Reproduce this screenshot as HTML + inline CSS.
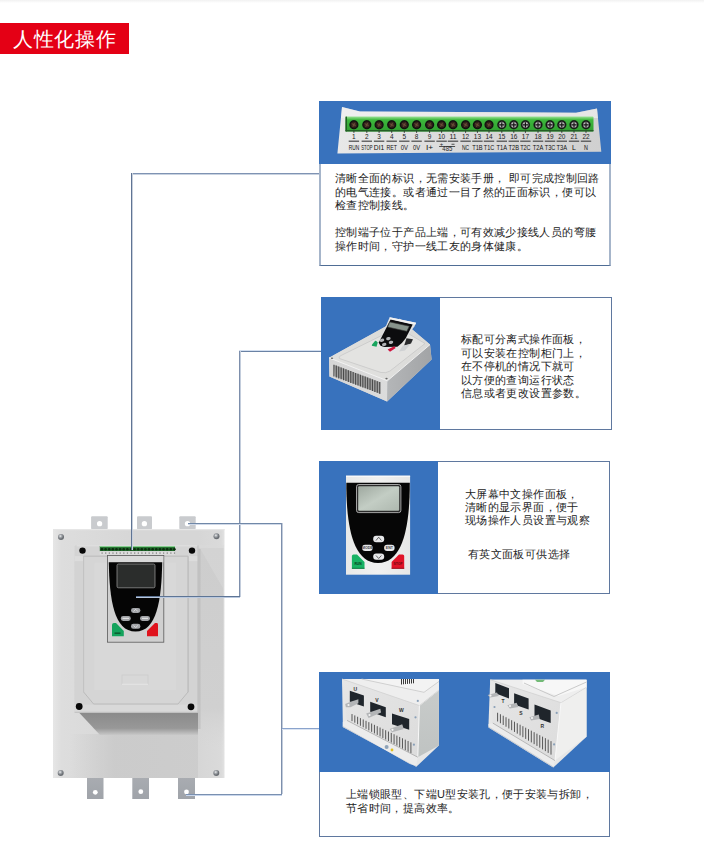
<!DOCTYPE html>
<html><head><meta charset="utf-8">
<style>
html,body{margin:0;padding:0;}
body{width:704px;height:852px;position:relative;overflow:hidden;background:#fff;font-family:"Liberation Sans",sans-serif;}
.a{position:absolute;}
.topfade{left:0;top:0;width:704px;height:3px;background:linear-gradient(#f1f1f1,#fff);}
.title{left:0;top:23px;width:129px;height:31px;background:#e40015;color:#fff;font-size:20px;line-height:33px;text-indent:13px;letter-spacing:0.7px;}
.box{border:1px solid #5f789f;background:#fff;box-sizing:border-box;}
.blue{background:#3872bd;}
.hl{height:1px;background:#6a86b3;}
.vl{width:1px;background:#6a86b3;}
.txt{font-size:11px;letter-spacing:0.36px;line-height:13.3px;color:#222;white-space:nowrap;}
</style></head><body>
<div class="a topfade"></div>
<div class="a title">人性化操作</div>


<!-- device -->
<svg class="a" style="left:0;top:0" width="704" height="852" viewBox="0 0 704 852">
<defs><linearGradient id="bp" x1="0" x2="1" y1="0" y2="0"><stop offset="0" stop-color="#e6e6e6"/><stop offset="0.05" stop-color="#dddddd"/><stop offset="0.5" stop-color="#d6d6d6"/><stop offset="0.85" stop-color="#d6d6d6"/><stop offset="0.98" stop-color="#dadada"/><stop offset="1" stop-color="#e2e2e2"/></linearGradient><linearGradient id="rs" x1="0" x2="0" y1="0" y2="1"><stop offset="0" stop-color="#cdcdcd"/><stop offset="0.8" stop-color="#d0d0d0"/><stop offset="1" stop-color="#d6d6d6" stop-opacity="0"/></linearGradient><linearGradient id="mb" x1="0" x2="1" y1="0" y2="0"><stop offset="0" stop-color="#c9c9c9" stop-opacity="0"/><stop offset="0.35" stop-color="#c9c9c9" stop-opacity="0.85"/><stop offset="1" stop-color="#cbcbcb" stop-opacity="0.85"/></linearGradient><linearGradient id="tabb" x1="0" x2="0" y1="0" y2="1"><stop offset="0" stop-color="#a9acb1"/><stop offset="1" stop-color="#9fa3a9"/></linearGradient><linearGradient id="shd" x1="0" x2="0" y1="0" y2="1"><stop offset="0" stop-color="#8a8a8a"/><stop offset="0.7" stop-color="#989898"/><stop offset="1" stop-color="#c8c8c8"/></linearGradient><linearGradient id="low" x1="0" x2="0" y1="0" y2="1"><stop offset="0" stop-color="#c6c6c6"/><stop offset="1" stop-color="#d2d2d2"/></linearGradient><radialGradient id="scr" cx="0.4" cy="0.35"><stop offset="0" stop-color="#f0f0f0"/><stop offset="0.45" stop-color="#a4a8ad"/><stop offset="1" stop-color="#6a6e73"/></radialGradient></defs>
<rect x="91.1" y="516.2" width="16.6" height="13" rx="1" fill="#c9cbce"/>
<circle cx="99.6" cy="523.7" r="2.65" fill="#fff"/>
<rect x="137" y="516.2" width="15" height="13" rx="1" fill="#c9cbce"/>
<circle cx="144.4" cy="523.7" r="2.65" fill="#fff"/>
<rect x="179.3" y="516.2" width="16.4" height="13" rx="1" fill="#c9cbce"/>
<circle cx="187.5" cy="523.7" r="2.65" fill="#fff"/>
<rect x="87" y="777.5" width="16.5" height="21.5" fill="url(#tabb)"/>
<circle cx="95.3" cy="792.3" r="2.4" fill="#fff"/>
<rect x="132.3" y="777.5" width="16.7" height="21.5" fill="url(#tabb)"/>
<circle cx="140.8" cy="791.7" r="2.4" fill="#fff"/>
<rect x="178" y="777.5" width="17" height="21.5" fill="url(#tabb)"/>
<circle cx="186.5" cy="792" r="2.4" fill="#fff"/>
<rect x="53" y="529" width="171.5" height="249" fill="url(#bp)"/>
<rect x="53" y="529" width="171.5" height="1.2" fill="#e6e6e6"/>
<rect x="198" y="548" width="25.5" height="200" fill="url(#rs)"/>
<rect x="70" y="734" width="128" height="44" fill="url(#mb)"/>
<polygon points="198,545 224,545 224,590" fill="#dadada" opacity="0.5"/>
<rect x="198" y="549" width="2.5" height="180" fill="#b9b9b9" opacity="0.6"/>
<path d="M79 712.5 L198 712.5 L198 735 L100 735 Z" fill="url(#shd)"/>
<circle cx="61" cy="537" r="3" fill="url(#scr)"/>
<circle cx="216.5" cy="536.3" r="3" fill="url(#scr)"/>
<circle cx="60.7" cy="773" r="3" fill="url(#scr)"/>
<circle cx="216.3" cy="773" r="3" fill="url(#scr)"/>
<rect x="74.5" y="545.3" width="123.7" height="167.2" rx="1.5" fill="#d3d3d3"/>
<rect x="76.6" y="545.3" width="121.6" height="9.5" fill="#d4d4d4"/>
<rect x="76.6" y="545.3" width="121.6" height="1" fill="#e2e2e2"/>
<rect x="74.5" y="704.5" width="123.7" height="8" fill="#d9d9d9"/>
<rect x="74.5" y="711.8" width="123.7" height="0.9" fill="#bcbcbc"/>
<path d="M74.5 558.5 Q74.5 556.2 76.8 556.2 L198 556.2 L198 704.5 L74.5 704.5 Z" fill="#d3d3d3"/>
<rect x="74.5" y="556.2" width="123.5" height="5" fill="#dcdcdc"/>
<path d="M83.6 556.2 L188 556.2 L188 692 L178 704 L93.6 704 L83.6 692 Z" fill="#d5d5d5" stroke="#b8b8b8" stroke-width="0.9"/>
<path d="M94.2 565 Q94.2 562.5 97 562.5 L176 562.5 L176 690 L95 690 L94.2 690 Z" fill="#d8d8d8"/>
<rect x="83.4" y="556.2" width="0.6" height="136" fill="#c6c6c6"/>
<rect x="187.8" y="556.2" width="0.8" height="136" fill="#bdbdbd"/>
<rect x="197.5" y="545.3" width="0.9" height="167" fill="#bdbdbd"/>
<circle cx="82.5" cy="550.6" r="3.2" fill="#080808"/>
<circle cx="192" cy="550.6" r="3.2" fill="#080808"/>
<circle cx="79.2" cy="706.5" r="3.4" fill="#080808"/>
<circle cx="191" cy="706.8" r="3.4" fill="#080808"/>
<rect x="122" y="675" width="26" height="9.5" fill="none" stroke="#c8c8c8" stroke-width="0.6"/>
<rect x="122" y="683.8" width="26" height="0.9" fill="#ececec"/>
<rect x="99.8" y="546" width="75.2" height="5.2" fill="#1f6a2a"/>
<rect x="99.8" y="546" width="75.2" height="1.1" fill="#86cf8f"/>
<circle cx="102.00" cy="549.3" r="1.3" fill="#0b2a0e"/><circle cx="105.62" cy="549.3" r="1.3" fill="#0b2a0e"/><circle cx="109.24" cy="549.3" r="1.3" fill="#0b2a0e"/><circle cx="112.86" cy="549.3" r="1.3" fill="#0b2a0e"/><circle cx="116.48" cy="549.3" r="1.3" fill="#0b2a0e"/><circle cx="120.10" cy="549.3" r="1.3" fill="#0b2a0e"/><circle cx="123.72" cy="549.3" r="1.3" fill="#0b2a0e"/><circle cx="127.34" cy="549.3" r="1.3" fill="#0b2a0e"/><circle cx="130.96" cy="549.3" r="1.3" fill="#0b2a0e"/><circle cx="134.58" cy="549.3" r="1.3" fill="#0b2a0e"/><circle cx="138.20" cy="549.3" r="1.3" fill="#0b2a0e"/><circle cx="141.82" cy="549.3" r="1.3" fill="#0b2a0e"/><circle cx="145.44" cy="549.3" r="1.3" fill="#0b2a0e"/><circle cx="149.06" cy="549.3" r="1.3" fill="#0b2a0e"/><circle cx="152.68" cy="549.3" r="1.3" fill="#0b2a0e"/><circle cx="156.30" cy="549.3" r="1.3" fill="#0b2a0e"/><circle cx="159.92" cy="549.3" r="1.3" fill="#0b2a0e"/><circle cx="163.54" cy="549.3" r="1.3" fill="#0b2a0e"/><circle cx="167.16" cy="549.3" r="1.3" fill="#0b2a0e"/><circle cx="170.78" cy="549.3" r="1.3" fill="#0b2a0e"/><circle cx="174.40" cy="549.3" r="1.3" fill="#0b2a0e"/>
<rect x="99.8" y="551.2" width="75.2" height="3.6" fill="#dedede"/>
<rect x="101.50" y="552.2" width="1.2" height="1.8" fill="#9a9a9a"/><rect x="105.12" y="552.2" width="1.2" height="1.8" fill="#9a9a9a"/><rect x="108.74" y="552.2" width="1.2" height="1.8" fill="#9a9a9a"/><rect x="112.36" y="552.2" width="1.2" height="1.8" fill="#9a9a9a"/><rect x="115.98" y="552.2" width="1.2" height="1.8" fill="#9a9a9a"/><rect x="119.60" y="552.2" width="1.2" height="1.8" fill="#9a9a9a"/><rect x="123.22" y="552.2" width="1.2" height="1.8" fill="#9a9a9a"/><rect x="126.84" y="552.2" width="1.2" height="1.8" fill="#9a9a9a"/><rect x="130.46" y="552.2" width="1.2" height="1.8" fill="#9a9a9a"/><rect x="134.08" y="552.2" width="1.2" height="1.8" fill="#9a9a9a"/><rect x="137.70" y="552.2" width="1.2" height="1.8" fill="#9a9a9a"/><rect x="141.32" y="552.2" width="1.2" height="1.8" fill="#9a9a9a"/><rect x="144.94" y="552.2" width="1.2" height="1.8" fill="#9a9a9a"/><rect x="148.56" y="552.2" width="1.2" height="1.8" fill="#9a9a9a"/><rect x="152.18" y="552.2" width="1.2" height="1.8" fill="#9a9a9a"/><rect x="155.80" y="552.2" width="1.2" height="1.8" fill="#9a9a9a"/><rect x="159.42" y="552.2" width="1.2" height="1.8" fill="#9a9a9a"/><rect x="163.04" y="552.2" width="1.2" height="1.8" fill="#9a9a9a"/><rect x="166.66" y="552.2" width="1.2" height="1.8" fill="#9a9a9a"/><rect x="170.28" y="552.2" width="1.2" height="1.8" fill="#9a9a9a"/><rect x="173.90" y="552.2" width="1.2" height="1.8" fill="#9a9a9a"/>
<rect x="107.5" y="555.6" width="56.3" height="86.6" fill="#d0d0d0" stroke="#5a5a5a" stroke-width="0.8"/>
<rect x="108" y="556" width="55.3" height="6.3" fill="#dadada"/>
<path d="M108.8 562.3 L162.2 562.3 C161.5 600 157 631.6 135.5 631.6 C114 631.6 109.5 600 108.8 562.3 Z" fill="#050505"/>
<rect x="117" y="564" width="38" height="23.8" rx="1.5" fill="#2b2d2c" stroke="#a0a0a0" stroke-width="0.7"/>
<rect x="131" y="608" width="9.4" height="5" rx="2.4" fill="#a3a5a9"/>
<rect x="120.8" y="615.9" width="10" height="5" rx="2.4" fill="#a3a5a9"/>
<rect x="140" y="615.9" width="10" height="5" rx="2.4" fill="#a3a5a9"/>
<rect x="131" y="623.8" width="9.4" height="5" rx="2.4" fill="#a3a5a9"/>
<path d="M112 636.3 L112 625 Q112 623 114 623 L116 623 L123.8 631 L123.8 636.3 Z" fill="#14a35c"/>
<path d="M133.6 611.5 L135.7 609.3 L137.8 611.5" stroke="#f0f0f0" stroke-width="0.7" fill="none"/>
<path d="M133.6 625.5 L135.7 627.6 L137.8 625.5" stroke="#f0f0f0" stroke-width="0.7" fill="none"/>
<rect x="122.5" y="617.8" width="6.5" height="1.2" fill="#eeeeee" opacity="0.8"/>
<rect x="142" y="617.8" width="6" height="1.2" fill="#eeeeee" opacity="0.8"/>
<rect x="114.5" y="632.5" width="6" height="1.3" fill="#0a3a1c" opacity="0.8"/>
<rect x="150" y="632.5" width="6" height="1.3" fill="#6a0a10" opacity="0.7"/>
<path d="M147 636.3 L147 631 L155 623 L157 623 Q158 623 158 625 L158 636.3 Z" fill="#e0131d"/>
</svg>

<!-- connector lines -->
<div class="a" style="left:131px;top:173px;width:190px;height:1px;background:#7f93b3;box-shadow:0 1px 0 #c8d2e0;"></div>
<div class="a" style="left:131px;top:173px;width:1px;height:377px;background:#5f7494;box-shadow:1px 0 0 #c8d0dc;"></div>

<div class="a" style="left:239px;top:351px;width:82px;height:1px;background:#6a82a5;box-shadow:0 -1px 0 #d3dff0;"></div>
<div class="a" style="left:239px;top:351px;width:1px;height:246px;background:#7d8fac;box-shadow:1px 0 0 #c3cddc;"></div>
<div class="a" style="left:136px;top:596px;width:104px;height:1px;background:#5e7595;box-shadow:0 1px 0 #b9c8de;"></div>

<div class="a" style="left:188px;top:523px;width:94px;height:1px;background:#7088a8;box-shadow:0 1px 0 #d0d9e8;"></div>
<div class="a" style="left:281px;top:523px;width:1px;height:271px;background:#7d8fac;box-shadow:1px 0 0 #c3cddc;"></div>
<div class="a" style="left:186px;top:794px;width:96px;height:1px;background:#7a90b0;box-shadow:0 1px 0 #c8d6ec;"></div>
<div class="a" style="left:282px;top:728px;width:38px;height:1px;background:#8aa3cc;box-shadow:0 1px 0 #dbe4f2;"></div>

<!-- box 1 -->
<div class="a box" style="left:319px;top:101px;width:292px;height:165px;border-left:2px solid #a6b5ca;border-right:2px solid #a6b5ca;border-bottom:1px solid #4f6d95;"></div>
<svg class="a" style="left:319px;top:101px" width="292" height="63" viewBox="319 101 292 63">
<defs><linearGradient id="pl" x1="0" x2="1"><stop offset="0" stop-color="#e8e8e8"/><stop offset="0.5" stop-color="#d9d9d9"/><stop offset="1" stop-color="#d0d0d0"/></linearGradient><linearGradient id="gr" x1="0" x2="0" y1="0" y2="1"><stop offset="0" stop-color="#9be296"/><stop offset="0.22" stop-color="#3db83c"/><stop offset="1" stop-color="#2f9f30"/></linearGradient><radialGradient id="sc"><stop offset="0" stop-color="#5a4030"/><stop offset="0.6" stop-color="#2a1d16"/><stop offset="0.85" stop-color="#0e0e0e"/><stop offset="1" stop-color="#1a3a1a"/></radialGradient><radialGradient id="sc2"><stop offset="0" stop-color="#e8e8e8"/><stop offset="0.5" stop-color="#b0b0b0"/><stop offset="0.75" stop-color="#151515"/><stop offset="1" stop-color="#1a3a1a"/></radialGradient></defs>
<rect x="319" y="101" width="292" height="63" fill="#3872bd"/>
<path d="M342 107 L360 111.4 L576 112.8 L597 108.5 L601.3 151.7 L337.4 153.4 Z" fill="url(#pl)"/>
<path d="M342 107 L360 111.4 L576 112.8 L597 108.5 L598 118 L341 118 Z" fill="#f4f4f4" opacity="0.6"/>
<rect x="345.5" y="116.6" width="248" height="14.8" rx="1" fill="url(#gr)"/>
<rect x="345.5" y="116.6" width="1.5" height="14.8" fill="#1f5e22"/>
<rect x="345.5" y="130" width="248" height="1.4" fill="#245f26"/>
<circle cx="353.9" cy="124.8" r="4.7" fill="url(#sc)"/>
<path d="M351.7 123.5 L356.1 126.1 M352.7 127 L355.1 122.6" stroke="#7a5a40" stroke-width="0.7" opacity="0.8"/>
<rect x="353.4" y="131" width="1" height="1.8" fill="#333"/>
<text x="353.9" y="139.4" font-size="7.8" text-anchor="middle" fill="#222" font-family="Liberation Sans" textLength="3.6" lengthAdjust="spacingAndGlyphs">1</text>
<rect x="348.7" y="140.6" width="10.4" height="1.2" fill="#4a4a4a"/>
<text x="353.9" y="149.6" font-size="8" text-anchor="middle" fill="#111" font-family="Liberation Sans" textLength="10.5" lengthAdjust="spacingAndGlyphs">RUN</text>
<circle cx="366.8" cy="124.8" r="4.7" fill="url(#sc)"/>
<path d="M364.6 123.5 L369.0 126.1 M365.6 127 L368.0 122.6" stroke="#7a5a40" stroke-width="0.7" opacity="0.8"/>
<rect x="366.3" y="131" width="1" height="1.8" fill="#333"/>
<text x="366.8" y="139.4" font-size="7.8" text-anchor="middle" fill="#222" font-family="Liberation Sans" textLength="3.6" lengthAdjust="spacingAndGlyphs">2</text>
<rect x="361.6" y="140.6" width="10.4" height="1.2" fill="#4a4a4a"/>
<text x="366.8" y="149.6" font-size="8" text-anchor="middle" fill="#111" font-family="Liberation Sans" textLength="11.2" lengthAdjust="spacingAndGlyphs">STOP</text>
<circle cx="379.1" cy="124.8" r="4.7" fill="url(#sc)"/>
<path d="M376.9 123.5 L381.3 126.1 M377.9 127 L380.3 122.6" stroke="#7a5a40" stroke-width="0.7" opacity="0.8"/>
<rect x="378.6" y="131" width="1" height="1.8" fill="#333"/>
<text x="379.1" y="139.4" font-size="7.8" text-anchor="middle" fill="#222" font-family="Liberation Sans" textLength="3.6" lengthAdjust="spacingAndGlyphs">3</text>
<rect x="373.9" y="140.6" width="10.4" height="1.2" fill="#4a4a4a"/>
<text x="379.1" y="149.6" font-size="8" text-anchor="middle" fill="#111" font-family="Liberation Sans" textLength="10.5" lengthAdjust="spacingAndGlyphs">DI1</text>
<circle cx="391.7" cy="124.8" r="4.7" fill="url(#sc)"/>
<path d="M389.5 123.5 L393.9 126.1 M390.5 127 L392.9 122.6" stroke="#7a5a40" stroke-width="0.7" opacity="0.8"/>
<rect x="391.2" y="131" width="1" height="1.8" fill="#333"/>
<text x="391.7" y="139.4" font-size="7.8" text-anchor="middle" fill="#222" font-family="Liberation Sans" textLength="3.6" lengthAdjust="spacingAndGlyphs">4</text>
<rect x="386.5" y="140.6" width="10.4" height="1.2" fill="#4a4a4a"/>
<text x="391.7" y="149.6" font-size="8" text-anchor="middle" fill="#111" font-family="Liberation Sans" textLength="10.5" lengthAdjust="spacingAndGlyphs">RET</text>
<circle cx="404.3" cy="124.8" r="4.7" fill="url(#sc)"/>
<path d="M402.1 123.5 L406.5 126.1 M403.1 127 L405.5 122.6" stroke="#7a5a40" stroke-width="0.7" opacity="0.8"/>
<rect x="403.8" y="131" width="1" height="1.8" fill="#333"/>
<text x="404.3" y="139.4" font-size="7.8" text-anchor="middle" fill="#222" font-family="Liberation Sans" textLength="3.6" lengthAdjust="spacingAndGlyphs">5</text>
<rect x="399.1" y="140.6" width="10.4" height="1.2" fill="#4a4a4a"/>
<text x="404.3" y="149.6" font-size="8" text-anchor="middle" fill="#111" font-family="Liberation Sans" textLength="7.2" lengthAdjust="spacingAndGlyphs">0V</text>
<circle cx="416.6" cy="124.8" r="4.7" fill="url(#sc)"/>
<path d="M414.4 123.5 L418.8 126.1 M415.4 127 L417.8 122.6" stroke="#7a5a40" stroke-width="0.7" opacity="0.8"/>
<rect x="416.1" y="131" width="1" height="1.8" fill="#333"/>
<text x="416.6" y="139.4" font-size="7.8" text-anchor="middle" fill="#222" font-family="Liberation Sans" textLength="3.6" lengthAdjust="spacingAndGlyphs">8</text>
<rect x="411.4" y="140.6" width="10.4" height="1.2" fill="#4a4a4a"/>
<text x="416.6" y="149.6" font-size="8" text-anchor="middle" fill="#111" font-family="Liberation Sans" textLength="7.2" lengthAdjust="spacingAndGlyphs">0V</text>
<circle cx="429.6" cy="124.8" r="4.7" fill="url(#sc)"/>
<path d="M427.4 123.5 L431.8 126.1 M428.4 127 L430.8 122.6" stroke="#7a5a40" stroke-width="0.7" opacity="0.8"/>
<rect x="429.1" y="131" width="1" height="1.8" fill="#333"/>
<text x="429.6" y="139.4" font-size="7.8" text-anchor="middle" fill="#222" font-family="Liberation Sans" textLength="3.6" lengthAdjust="spacingAndGlyphs">9</text>
<rect x="424.4" y="140.6" width="10.4" height="1.2" fill="#4a4a4a"/>
<text x="429.6" y="149.6" font-size="8" text-anchor="middle" fill="#111" font-family="Liberation Sans" textLength="7.2" lengthAdjust="spacingAndGlyphs">I+</text>
<circle cx="441.6" cy="124.8" r="4.7" fill="url(#sc)"/>
<path d="M439.4 123.5 L443.8 126.1 M440.4 127 L442.8 122.6" stroke="#7a5a40" stroke-width="0.7" opacity="0.8"/>
<rect x="441.1" y="131" width="1" height="1.8" fill="#333"/>
<text x="441.6" y="139.4" font-size="7.8" text-anchor="middle" fill="#222" font-family="Liberation Sans" textLength="7.2" lengthAdjust="spacingAndGlyphs">10</text>
<rect x="436.4" y="140.6" width="10.4" height="1.2" fill="#4a4a4a"/>
<circle cx="453.0" cy="124.8" r="4.7" fill="url(#sc)"/>
<path d="M450.8 123.5 L455.2 126.1 M451.8 127 L454.2 122.6" stroke="#7a5a40" stroke-width="0.7" opacity="0.8"/>
<rect x="452.5" y="131" width="1" height="1.8" fill="#333"/>
<text x="453.0" y="139.4" font-size="7.8" text-anchor="middle" fill="#222" font-family="Liberation Sans" textLength="7.2" lengthAdjust="spacingAndGlyphs">11</text>
<rect x="447.8" y="140.6" width="10.4" height="1.2" fill="#4a4a4a"/>
<circle cx="465.6" cy="124.8" r="4.7" fill="url(#sc)"/>
<path d="M463.4 123.5 L467.8 126.1 M464.4 127 L466.8 122.6" stroke="#7a5a40" stroke-width="0.7" opacity="0.8"/>
<rect x="465.1" y="131" width="1" height="1.8" fill="#333"/>
<text x="465.6" y="139.4" font-size="7.8" text-anchor="middle" fill="#222" font-family="Liberation Sans" textLength="7.2" lengthAdjust="spacingAndGlyphs">12</text>
<rect x="460.4" y="140.6" width="10.4" height="1.2" fill="#4a4a4a"/>
<text x="465.6" y="149.6" font-size="8" text-anchor="middle" fill="#111" font-family="Liberation Sans" textLength="7.2" lengthAdjust="spacingAndGlyphs">NC</text>
<circle cx="477.4" cy="124.8" r="4.7" fill="url(#sc)"/>
<path d="M475.2 123.5 L479.6 126.1 M476.2 127 L478.6 122.6" stroke="#7a5a40" stroke-width="0.7" opacity="0.8"/>
<rect x="476.9" y="131" width="1" height="1.8" fill="#333"/>
<text x="477.4" y="139.4" font-size="7.8" text-anchor="middle" fill="#222" font-family="Liberation Sans" textLength="7.2" lengthAdjust="spacingAndGlyphs">13</text>
<rect x="472.2" y="140.6" width="10.4" height="1.2" fill="#4a4a4a"/>
<text x="477.4" y="149.6" font-size="8" text-anchor="middle" fill="#111" font-family="Liberation Sans" textLength="10.5" lengthAdjust="spacingAndGlyphs">T1B</text>
<circle cx="489.0" cy="124.8" r="4.7" fill="url(#sc)"/>
<path d="M486.8 123.5 L491.2 126.1 M487.8 127 L490.2 122.6" stroke="#7a5a40" stroke-width="0.7" opacity="0.8"/>
<rect x="488.5" y="131" width="1" height="1.8" fill="#333"/>
<text x="489.0" y="139.4" font-size="7.8" text-anchor="middle" fill="#222" font-family="Liberation Sans" textLength="7.2" lengthAdjust="spacingAndGlyphs">14</text>
<rect x="483.8" y="140.6" width="10.4" height="1.2" fill="#4a4a4a"/>
<text x="489.0" y="149.6" font-size="8" text-anchor="middle" fill="#111" font-family="Liberation Sans" textLength="10.5" lengthAdjust="spacingAndGlyphs">T1C</text>
<circle cx="501.8" cy="124.8" r="4.7" fill="url(#sc2)"/>
<path d="M499.2 124.8 H504.4 M501.8 122.2 V127.4" stroke="#111" stroke-width="1.2"/>
<rect x="501.3" y="131" width="1" height="1.8" fill="#333"/>
<text x="501.8" y="139.4" font-size="7.8" text-anchor="middle" fill="#222" font-family="Liberation Sans" textLength="7.2" lengthAdjust="spacingAndGlyphs">15</text>
<rect x="496.6" y="140.6" width="10.4" height="1.2" fill="#4a4a4a"/>
<text x="501.8" y="149.6" font-size="8" text-anchor="middle" fill="#111" font-family="Liberation Sans" textLength="10.5" lengthAdjust="spacingAndGlyphs">T1A</text>
<circle cx="513.8" cy="124.8" r="4.7" fill="url(#sc2)"/>
<path d="M511.2 124.8 H516.4 M513.8 122.2 V127.4" stroke="#111" stroke-width="1.2"/>
<rect x="513.3" y="131" width="1" height="1.8" fill="#333"/>
<text x="513.8" y="139.4" font-size="7.8" text-anchor="middle" fill="#222" font-family="Liberation Sans" textLength="7.2" lengthAdjust="spacingAndGlyphs">16</text>
<rect x="508.6" y="140.6" width="10.4" height="1.2" fill="#4a4a4a"/>
<text x="513.8" y="149.6" font-size="8" text-anchor="middle" fill="#111" font-family="Liberation Sans" textLength="10.5" lengthAdjust="spacingAndGlyphs">T2B</text>
<circle cx="525.4" cy="124.8" r="4.7" fill="url(#sc2)"/>
<path d="M522.8 124.8 H528.0 M525.4 122.2 V127.4" stroke="#111" stroke-width="1.2"/>
<rect x="524.9" y="131" width="1" height="1.8" fill="#333"/>
<text x="525.4" y="139.4" font-size="7.8" text-anchor="middle" fill="#222" font-family="Liberation Sans" textLength="7.2" lengthAdjust="spacingAndGlyphs">17</text>
<rect x="520.2" y="140.6" width="10.4" height="1.2" fill="#4a4a4a"/>
<text x="525.4" y="149.6" font-size="8" text-anchor="middle" fill="#111" font-family="Liberation Sans" textLength="10.5" lengthAdjust="spacingAndGlyphs">T2C</text>
<circle cx="538.0" cy="124.8" r="4.7" fill="url(#sc2)"/>
<path d="M535.4 124.8 H540.6 M538.0 122.2 V127.4" stroke="#111" stroke-width="1.2"/>
<rect x="537.5" y="131" width="1" height="1.8" fill="#333"/>
<text x="538.0" y="139.4" font-size="7.8" text-anchor="middle" fill="#222" font-family="Liberation Sans" textLength="7.2" lengthAdjust="spacingAndGlyphs">18</text>
<rect x="532.8" y="140.6" width="10.4" height="1.2" fill="#4a4a4a"/>
<text x="538.0" y="149.6" font-size="8" text-anchor="middle" fill="#111" font-family="Liberation Sans" textLength="10.5" lengthAdjust="spacingAndGlyphs">T2A</text>
<circle cx="550.0" cy="124.8" r="4.7" fill="url(#sc2)"/>
<path d="M547.4 124.8 H552.6 M550.0 122.2 V127.4" stroke="#111" stroke-width="1.2"/>
<rect x="549.5" y="131" width="1" height="1.8" fill="#333"/>
<text x="550.0" y="139.4" font-size="7.8" text-anchor="middle" fill="#222" font-family="Liberation Sans" textLength="7.2" lengthAdjust="spacingAndGlyphs">19</text>
<rect x="544.8" y="140.6" width="10.4" height="1.2" fill="#4a4a4a"/>
<text x="550.0" y="149.6" font-size="8" text-anchor="middle" fill="#111" font-family="Liberation Sans" textLength="10.5" lengthAdjust="spacingAndGlyphs">T3C</text>
<circle cx="561.8" cy="124.8" r="4.7" fill="url(#sc2)"/>
<path d="M559.2 124.8 H564.4 M561.8 122.2 V127.4" stroke="#111" stroke-width="1.2"/>
<rect x="561.3" y="131" width="1" height="1.8" fill="#333"/>
<text x="561.8" y="139.4" font-size="7.8" text-anchor="middle" fill="#222" font-family="Liberation Sans" textLength="7.2" lengthAdjust="spacingAndGlyphs">20</text>
<rect x="556.6" y="140.6" width="10.4" height="1.2" fill="#4a4a4a"/>
<text x="561.8" y="149.6" font-size="8" text-anchor="middle" fill="#111" font-family="Liberation Sans" textLength="10.5" lengthAdjust="spacingAndGlyphs">T3A</text>
<circle cx="574.0" cy="124.8" r="4.7" fill="url(#sc2)"/>
<path d="M571.4 124.8 H576.6 M574.0 122.2 V127.4" stroke="#111" stroke-width="1.2"/>
<rect x="573.5" y="131" width="1" height="1.8" fill="#333"/>
<text x="574.0" y="139.4" font-size="7.8" text-anchor="middle" fill="#222" font-family="Liberation Sans" textLength="7.2" lengthAdjust="spacingAndGlyphs">21</text>
<rect x="568.8" y="140.6" width="10.4" height="1.2" fill="#4a4a4a"/>
<text x="574.0" y="149.6" font-size="8" text-anchor="middle" fill="#111" font-family="Liberation Sans" textLength="3.9" lengthAdjust="spacingAndGlyphs">L</text>
<circle cx="586.0" cy="124.8" r="4.7" fill="url(#sc2)"/>
<path d="M583.4 124.8 H588.6 M586.0 122.2 V127.4" stroke="#111" stroke-width="1.2"/>
<rect x="585.5" y="131" width="1" height="1.8" fill="#333"/>
<text x="586.0" y="139.4" font-size="7.8" text-anchor="middle" fill="#222" font-family="Liberation Sans" textLength="7.2" lengthAdjust="spacingAndGlyphs">22</text>
<rect x="580.8" y="140.6" width="10.4" height="1.2" fill="#4a4a4a"/>
<text x="586.0" y="149.6" font-size="8" text-anchor="middle" fill="#111" font-family="Liberation Sans" textLength="3.9" lengthAdjust="spacingAndGlyphs">N</text>
<text x="447.3" y="151" font-size="6.5" text-anchor="middle" fill="#2a2a2a" font-family="Liberation Sans" textLength="10" lengthAdjust="spacingAndGlyphs">485</text>
<text x="441.6" y="146" font-size="6" text-anchor="middle" fill="#2a2a2a" font-family="Liberation Sans">+</text>
<rect x="439.1" y="146" width="16" height="0.8" fill="#2a2a2a"/>
<rect x="451.5" y="143.8" width="3" height="0.8" fill="#2a2a2a"/>
</svg>
<div class="a txt" style="left:335px;top:172px;line-height:13.5px;">清晰全面的标识，无需安装手册， 即可完成控制回路<br>的电气连接。或者通过一目了然的正面标识，便可以<br>检查控制接线。<br><br>控制端子位于产品上端，可有效减少接线人员的弯腰<br>操作时间，守护一线工友的身体健康。</div>

<!-- box 2 -->
<div class="a box" style="left:321px;top:297px;width:291px;height:133px;"></div>
<svg class="a" style="left:321px;top:297px" width="119" height="133" viewBox="321 297 119 133">
<defs><linearGradient id="tf" x1="0" y1="1" x2="1" y2="0"><stop offset="0" stop-color="#e2e2e0"/><stop offset="1" stop-color="#d8d8d6"/></linearGradient><linearGradient id="lf" x1="0" x2="1"><stop offset="0" stop-color="#d6d6d6"/><stop offset="1" stop-color="#dcdcdc"/></linearGradient><linearGradient id="rf" x1="0" x2="1"><stop offset="0" stop-color="#b4b6b8"/><stop offset="1" stop-color="#a2a4a6"/></linearGradient><linearGradient id="lcd2" x1="0" x2="1"><stop offset="0" stop-color="#8a968f"/><stop offset="1" stop-color="#6f7a74"/></linearGradient></defs>
<rect x="321" y="297" width="119" height="133" fill="#3872bd"/>
<path d="M329.0 357.8 L399.6 318.8 L430.0 344.6 L431.6 359.4 L387.1 401.5 L329.4 376.6 Z" fill="#d0d3d8" />
<path d="M329.0 357.8 L399.6 318.8 L430.0 344.6 L387.4 380.8 Z" fill="url(#tf)" />
<path d="M329.0 357.8 L387.4 380.8 L387.1 401.5 L329.4 376.6 Z" fill="url(#lf)" />
<path d="M387.4 380.8 L430.0 344.6 L431.6 359.4 L387.1 401.5 Z" fill="url(#rf)" />
<path d="M329 357.8 L387.4 380.8 L430 344.6" stroke="#f5f5f5" stroke-width="0.9" fill="none"/>
<path d="M339.6 358.6 Q338 357 341 355.5 L398 327.5 L425 343.5 L390 371 Q386 373.5 381 372.5 Z" fill="#e3e3e1" stroke="#c4c4c4" stroke-width="0.7"/>
<path d="M333.9 364.7 L380.5 382.3 L380.5 394 L334.9 376.6 Z" fill="#a3a3a3"/>
<path d="M333.90 364.70 L333.90 376.60" stroke="#4a4a4a" stroke-width="1.1"/>
<path d="M336.31 365.62 L336.31 377.50" stroke="#4a4a4a" stroke-width="1.1"/>
<path d="M338.72 366.53 L338.72 378.40" stroke="#4a4a4a" stroke-width="1.1"/>
<path d="M341.13 367.45 L341.13 379.30" stroke="#4a4a4a" stroke-width="1.1"/>
<path d="M343.54 368.36 L343.54 380.20" stroke="#4a4a4a" stroke-width="1.1"/>
<path d="M345.95 369.28 L345.95 381.10" stroke="#4a4a4a" stroke-width="1.1"/>
<path d="M348.36 370.19 L348.36 382.00" stroke="#4a4a4a" stroke-width="1.1"/>
<path d="M350.77 371.11 L350.77 382.90" stroke="#4a4a4a" stroke-width="1.1"/>
<path d="M353.18 372.03 L353.18 383.80" stroke="#4a4a4a" stroke-width="1.1"/>
<path d="M355.59 372.94 L355.59 384.70" stroke="#4a4a4a" stroke-width="1.1"/>
<path d="M358.01 373.86 L358.01 385.60" stroke="#4a4a4a" stroke-width="1.1"/>
<path d="M360.42 374.77 L360.42 386.50" stroke="#4a4a4a" stroke-width="1.1"/>
<path d="M362.83 375.69 L362.83 387.40" stroke="#4a4a4a" stroke-width="1.1"/>
<path d="M365.24 376.61 L365.24 388.30" stroke="#4a4a4a" stroke-width="1.1"/>
<path d="M367.65 377.52 L367.65 389.20" stroke="#4a4a4a" stroke-width="1.1"/>
<path d="M370.06 378.44 L370.06 390.10" stroke="#4a4a4a" stroke-width="1.1"/>
<path d="M372.47 379.35 L372.47 391.00" stroke="#4a4a4a" stroke-width="1.1"/>
<path d="M374.88 380.27 L374.88 391.90" stroke="#4a4a4a" stroke-width="1.1"/>
<path d="M377.29 381.18 L377.29 392.80" stroke="#4a4a4a" stroke-width="1.1"/>
<path d="M379.70 382.10 L379.70 393.70" stroke="#4a4a4a" stroke-width="1.1"/>
<ellipse cx="332" cy="358.2" rx="1.2" ry="0.8" fill="#666"/><ellipse cx="386.5" cy="378.6" rx="1.2" ry="0.8" fill="#666"/>
<path d="M406.5 338.3 L413.0 339.2 L411.0 343.5 L404.0 346.0 Z" fill="#2a2b2d" />
<path d="M403.0 345.5 L410.5 344.0 L405.0 350.5 L399.0 351.5 Z" fill="#cfd1d3" />
<path d="M389.7 317.2 L416.1 322.8 L414.4 326.6 L394 353.5 L390 352.5 L380.5 348 Q377.5 346 378.6 343 Z" fill="#e2e3e5"/>
<path d="M390.6 319.4 L412.7 324.5 L405.9 338.1 Q402 344 397.4 346.7 L384 347 Q379.5 346 378.8 342.5 Z" fill="#0c0c0e"/>
<path d="M389.7 321.9 L409.3 326.2 L406.8 331.3 L387.6 327.0 Z" fill="#88948c" stroke="#3a3d3b" stroke-width="0.6"/>
<path d="M389.7 317.2 L416.1 322.8 L415.2 324.8 L390.0 319.0 Z" fill="#f2f2f2" />
<ellipse cx="388.4" cy="338.6" rx="2.3" ry="1.6" fill="#b0b2b5" transform="rotate(-15 388.4 338.6)"/>
<ellipse cx="382" cy="340.3" rx="2.3" ry="1.6" fill="#b0b2b5" transform="rotate(-15 382 340.3)"/>
<ellipse cx="391" cy="342.4" rx="2.3" ry="1.6" fill="#b0b2b5" transform="rotate(-15 391 342.4)"/>
<ellipse cx="384.2" cy="344.5" rx="2.3" ry="1.6" fill="#b0b2b5" transform="rotate(-15 384.2 344.5)"/>
<path d="M371.8 345.7 Q371.8 344.8 372.5 344 L375 341 Q375.6 340.5 376.2 341 L377.8 342.6 L376.5 346.7 Z" fill="#17a45d"/>
<path d="M387.6 349.6 L394.3 346.2 L395.7 347.9 L390 351.8 Z" fill="#d0133a"/>
</svg>
<div class="a txt" style="left:461px;top:333px;line-height:13.6px;">标配可分离式操作面板，<br>可以安装在控制柜门上，<br>在不停机的情况下就可<br>以方便的查询运行状态<br>信息或者更改设置参数。</div>

<!-- box 3 -->
<div class="a box" style="left:319px;top:461px;width:291px;height:133px;"></div>
<svg class="a" style="left:319px;top:461px" width="119" height="133" viewBox="319 461 119 133">
<defs><linearGradient id="lcd3" x1="0" y1="0" x2="1" y2="1"><stop offset="0" stop-color="#9ea89f"/><stop offset="0.5" stop-color="#c3cdc4"/><stop offset="1" stop-color="#aeb8af"/></linearGradient><linearGradient id="bd3" x1="0" x2="1"><stop offset="0" stop-color="#e8e9e8"/><stop offset="0.5" stop-color="#f1f1f0"/><stop offset="1" stop-color="#e6e7e6"/></linearGradient></defs>
<rect x="319" y="461" width="119" height="133" fill="#3872bd"/>
<rect x="346" y="475.7" width="64.1" height="99" fill="url(#bd3)"/>
<rect x="346" y="475.7" width="64.1" height="1.2" fill="#fafafa"/>
<path d="M346.3 482.7 L409.8 482.7 C409.8 520 405 563 378 563 C351 563 346.3 520 346.3 482.7 Z" fill="#060606"/>
<rect x="356.5" y="484.5" width="44.4" height="28.1" rx="2.2" fill="#2b2b2b" stroke="#c8c8c8" stroke-width="0.8"/>
<rect x="358.2" y="486.3" width="41" height="24.5" rx="1" fill="url(#lcd3)"/>
<rect x="373.2" y="535.8" width="11" height="6.4" rx="3" fill="#e7e8ea"/>
<rect x="362.1" y="544.7" width="10.5" height="6.4" rx="3" fill="#e7e8ea"/>
<rect x="384.1" y="544.7" width="10.5" height="6.4" rx="3" fill="#e7e8ea"/>
<rect x="373.2" y="553.4" width="11" height="6.4" rx="3" fill="#e7e8ea"/>
<path d="M376 540.5 L378.7 537.2 L381.4 540.5" stroke="#444" stroke-width="0.8" fill="none"/>
<path d="M376 555.5 L378.7 558.5 L381.4 555.5" stroke="#444" stroke-width="0.8" fill="none"/>
<text x="367.3" y="549.4" font-size="3.6" text-anchor="middle" fill="#444" font-family="Liberation Sans" font-weight="bold">MODE</text>
<text x="389.4" y="549.4" font-size="3.6" text-anchor="middle" fill="#444" font-family="Liberation Sans" font-weight="bold">ENT</text>
<path d="M351.9 568.6 L351.9 556 Q351.9 554.4 353.5 554.4 L357 554.4 L364.5 562 L364.5 568.6 Z" fill="#18b363"/>
<path d="M391.6 568.6 L391.6 562 L399 554.4 L402.6 554.4 Q404.2 554.4 404.2 556 L404.2 568.6 Z" fill="#e01428"/>
<rect x="351.9" y="567.8" width="12.6" height="1" fill="#0c7a3e"/><rect x="391.6" y="567.8" width="12.6" height="1" fill="#9a0c1a"/>
<text x="358" y="565" font-size="3.3" text-anchor="middle" fill="#0a3a1a" font-family="Liberation Sans" font-weight="bold">RUN</text>
<text x="398" y="565" font-size="3.3" text-anchor="middle" fill="#6a0a10" font-family="Liberation Sans" font-weight="bold">STOP</text>
</svg>
<div class="a txt" style="left:465px;top:488px;line-height:13.1px;">大屏幕中文操作面板，<br>清晰的显示界面，便于<br>现场操作人员设置与观察</div>
<div class="a txt" style="left:468px;top:548px;">有英文面板可供选择</div>

<!-- box 4 -->
<div class="a box" style="left:319px;top:672px;width:291px;height:165px;"></div>
<svg class="a" style="left:319px;top:672px" width="291" height="100" viewBox="319 672 291 100">
<defs><linearGradient id="ff4" x1="0" y1="0" x2="1" y2="1"><stop offset="0" stop-color="#e6e6e6"/><stop offset="1" stop-color="#dcdcdc"/></linearGradient><linearGradient id="rf4" x1="0" y1="0" x2="0" y2="1"><stop offset="0" stop-color="#c8cbca"/><stop offset="1" stop-color="#bfc3c2"/></linearGradient></defs>
<rect x="319" y="672" width="291" height="100" fill="#3872bd"/>
<path d="M342.0 679.0 L438.9 679.0 L438.9 745.4 L416.3 766.8 L342.8 727.0 L342.8 722.0 Z" fill="#e6e6e6" />
<path d="M342.0 679.0 L438.9 679.0 L438.9 690.0 L419.4 705.6 Z" fill="#eeeeee" />
<path d="M361.6 679.0 L439.0 679.0 L439.0 681.4 L424.0 692.3 Z" fill="#f3f3f3" />
<path d="M401.5 679 L401.5 684.5" stroke="#3a3a3a" stroke-width="1"/>
<path d="M403.5 679 L403.5 684.3" stroke="#3a3a3a" stroke-width="1"/>
<path d="M405.5 679 L405.5 684.1" stroke="#3a3a3a" stroke-width="1"/>
<path d="M407.5 679 L407.5 683.9" stroke="#3a3a3a" stroke-width="1"/>
<path d="M409.5 679 L409.5 683.7" stroke="#3a3a3a" stroke-width="1"/>
<path d="M411.5 679 L411.5 683.5" stroke="#3a3a3a" stroke-width="1"/>
<path d="M413.5 679 L413.5 683.3" stroke="#3a3a3a" stroke-width="1"/>
<path d="M342.0 679.0 L419.4 705.6 L417.8 757.2 L347.0 720.4 Z" fill="url(#ff4)" />
<path d="M419.4 705.6 L438.9 690.0 L438.9 745.4 L417.8 757.2 Z" fill="url(#rf4)" />
<path d="M419.4 705.6 L438.9 690" stroke="#fafafa" stroke-width="0.8"/>
<path d="M342.8 722.0 L347.0 720.4 L417.8 757.2 L416.3 765.8 L410.0 764.0 L342.8 726.0 Z" fill="#ececec" />
<path d="M342.8 726.0 L410.0 764.0 L416.3 765.8 L416.3 766.8 L342.8 727.0 Z" fill="#c8ccd2" />
<path d="M352.00 714.07 L352.00 721.16" stroke="#505050" stroke-width="0.95"/>
<path d="M354.81 715.42 L354.81 722.69" stroke="#505050" stroke-width="0.95"/>
<path d="M357.61 716.76 L357.61 724.22" stroke="#505050" stroke-width="0.95"/>
<path d="M360.42 718.11 L360.42 725.75" stroke="#505050" stroke-width="0.95"/>
<path d="M363.22 719.45 L363.22 727.27" stroke="#505050" stroke-width="0.95"/>
<path d="M366.03 720.80 L366.03 728.80" stroke="#505050" stroke-width="0.95"/>
<path d="M368.83 722.15 L368.83 730.33" stroke="#505050" stroke-width="0.95"/>
<path d="M371.63 723.49 L371.63 731.85" stroke="#505050" stroke-width="0.95"/>
<path d="M374.44 724.84 L374.44 733.38" stroke="#505050" stroke-width="0.95"/>
<path d="M377.24 726.18 L377.24 734.91" stroke="#505050" stroke-width="0.95"/>
<path d="M380.05 727.53 L380.05 736.44" stroke="#505050" stroke-width="0.95"/>
<path d="M382.85 728.87 L382.85 737.96" stroke="#505050" stroke-width="0.95"/>
<path d="M385.66 730.22 L385.66 739.49" stroke="#505050" stroke-width="0.95"/>
<path d="M388.46 731.56 L388.46 741.02" stroke="#505050" stroke-width="0.95"/>
<path d="M391.27 732.91 L391.27 742.55" stroke="#505050" stroke-width="0.95"/>
<path d="M394.07 734.25 L394.07 744.07" stroke="#505050" stroke-width="0.95"/>
<path d="M396.88 735.60 L396.88 745.60" stroke="#505050" stroke-width="0.95"/>
<path d="M399.68 736.95 L399.68 747.13" stroke="#505050" stroke-width="0.95"/>
<path d="M402.48 738.29 L402.48 748.65" stroke="#505050" stroke-width="0.95"/>
<path d="M405.29 739.64 L405.29 750.18" stroke="#505050" stroke-width="0.95"/>
<path d="M408.09 740.98 L408.09 751.71" stroke="#505050" stroke-width="0.95"/>
<path d="M410.90 742.33 L410.90 753.24" stroke="#505050" stroke-width="0.95"/>
<path d="M349.8 690.8 L363.9 695.4 L363.9 706.4 L349.8 701.7 Z" fill="#1f252b" />
<path d="M370.2 701.7 L385.8 707.2 L385.8 717.3 L370.2 711.8 Z" fill="#1f252b" />
<path d="M392.0 713.4 L409.2 718.9 L409.2 729.8 L392.0 724.3 Z" fill="#1f252b" />
<path d="M345.2 704.0 L350.6 701.7 L358.4 699.3 L358.4 703.2 L350.6 707.2 L345.9 707.2 Z" fill="#b3b5b7" />
<circle cx="348.5" cy="705" r="1.1" fill="#f4f4f4"/>
<path d="M366.2 713.4 L380.3 708.7 L381.1 712.6 L368.6 718.1 Z" fill="#b3b5b7" />
<circle cx="369.5" cy="715" r="1.1" fill="#f4f4f4"/>
<path d="M389.7 729.0 L402.2 724.3 L403.8 729.0 L392.0 732.2 Z" fill="#b3b5b7" />
<circle cx="392.5" cy="729.8" r="1.1" fill="#f4f4f4"/>
<text x="355.3" y="691.2" font-size="5" text-anchor="middle" fill="#333" font-family="Liberation Sans" font-weight="bold">U</text>
<text x="376.9" y="702.1" font-size="5" text-anchor="middle" fill="#333" font-family="Liberation Sans" font-weight="bold">V</text>
<text x="401.4" y="712.3" font-size="5" text-anchor="middle" fill="#333" font-family="Liberation Sans" font-weight="bold">W</text>
<circle cx="386.6" cy="747" r="2" fill="#8fa3b8"/><circle cx="392" cy="750" r="1.4" fill="#e0c020"/>
<path d="M342 679 L419.4 705.6 L438.9 690" stroke="#d2d2d2" stroke-width="0.8" fill="none"/>
<path d="M361.6 679 L424 692.3 L439 681.4" stroke="#c8c8c8" stroke-width="0.8" fill="none"/>
<path d="M419.4 705.6 L417.8 757.2" stroke="#f8f8f8" stroke-width="1" fill="none"/>
<path d="M347 720.4 L417.8 757.2" stroke="#b0b0b0" stroke-width="0.9" fill="none"/>
<circle cx="417.8" cy="700.9" r="1.1" fill="#8aa0b8"/>
<circle cx="415.5" cy="717.3" r="1.1" fill="#8aa0b8"/>
<circle cx="413.9" cy="744.7" r="1.1" fill="#8aa0b8"/>
<path d="M490.2 679.7 L586.5 679.7 L586.5 736.8 L553.3 767.6 L488.5 727.5 L488.5 724.0 Z" fill="#e6e6e6" />
<path d="M490.2 679.7 L586.5 679.7 L586.5 687.3 L561.0 702.7 Z" fill="#eeeeee" />
<path d="M522.6 679.7 L586.5 679.7 L586.5 687.3 L558.4 695.9 L522.6 684.0 Z" fill="#f7f7f7" />
<path d="M535.0 679.7 L545.0 679.7 L543.0 682.0 L537.0 682.0 Z" fill="#3aa040" opacity="0.7"/>
<path d="M524 683 L554 696.5 L586.5 682" stroke="#c4c4c4" stroke-width="0.9" fill="none"/>
<path d="M490.2 679.7 L561.0 702.7 L555.0 760.6 L492.8 723.1 Z" fill="url(#ff4)" />
<path d="M561.0 702.7 L586.5 687.3 L586.5 736.8 L555.0 760.6 Z" fill="#efefee" />
<path d="M561 702.7 L586.5 687.3" stroke="#fafafa" stroke-width="0.8"/>
<path d="M488.5 724.0 L492.8 723.1 L555.0 760.6 L553.3 766.6 L488.5 726.5 Z" fill="#ececec" />
<path d="M488.5 726.5 L553.3 766.6 L553.3 767.6 L488.5 727.5 Z" fill="#c8ccd2" />
<path d="M497.60 712.75 L497.60 721.47" stroke="#505050" stroke-width="0.95"/>
<path d="M500.41 714.24 L500.41 723.22" stroke="#505050" stroke-width="0.95"/>
<path d="M503.22 715.74 L503.22 724.96" stroke="#505050" stroke-width="0.95"/>
<path d="M506.03 717.23 L506.03 726.71" stroke="#505050" stroke-width="0.95"/>
<path d="M508.84 718.73 L508.84 728.45" stroke="#505050" stroke-width="0.95"/>
<path d="M511.65 720.22 L511.65 730.20" stroke="#505050" stroke-width="0.95"/>
<path d="M514.47 721.72 L514.47 731.94" stroke="#505050" stroke-width="0.95"/>
<path d="M517.27 723.21 L517.27 733.69" stroke="#505050" stroke-width="0.95"/>
<path d="M520.09 724.71 L520.09 735.43" stroke="#505050" stroke-width="0.95"/>
<path d="M522.89 726.20 L522.89 737.18" stroke="#505050" stroke-width="0.95"/>
<path d="M525.70 727.70 L525.70 738.92" stroke="#505050" stroke-width="0.95"/>
<path d="M528.51 729.19 L528.51 740.67" stroke="#505050" stroke-width="0.95"/>
<path d="M531.32 730.69 L531.32 742.41" stroke="#505050" stroke-width="0.95"/>
<path d="M534.13 732.18 L534.13 744.16" stroke="#505050" stroke-width="0.95"/>
<path d="M536.94 733.68 L536.94 745.90" stroke="#505050" stroke-width="0.95"/>
<path d="M539.75 735.17 L539.75 747.65" stroke="#505050" stroke-width="0.95"/>
<path d="M542.56 736.67 L542.56 749.39" stroke="#505050" stroke-width="0.95"/>
<path d="M545.38 738.16 L545.38 751.14" stroke="#505050" stroke-width="0.95"/>
<path d="M548.18 739.66 L548.18 752.88" stroke="#505050" stroke-width="0.95"/>
<path d="M551.00 741.15 L551.00 754.63" stroke="#505050" stroke-width="0.95"/>
<path d="M495.3 683.1 L509.0 688.2 L509.0 698.4 L495.3 693.3 Z" fill="#1f252b" />
<path d="M514.1 693.3 L528.6 698.4 L528.6 709.5 L514.1 704.4 Z" fill="#1f252b" />
<path d="M534.5 704.4 L550.7 710.4 L550.7 723.1 L534.5 717.2 Z" fill="#1f252b" />
<path d="M487.7 695.0 L497.0 692.5 L498.7 695.9 L490.2 697.6 Z" fill="#b3b5b7" />
<circle cx="490.5" cy="695.6" r="1.1" fill="#f4f4f4"/>
<path d="M507.3 705.2 L516.6 702.7 L518.4 707.0 L509.8 708.6 Z" fill="#b3b5b7" />
<circle cx="510" cy="706" r="1.1" fill="#f4f4f4"/>
<path d="M529.4 717.2 L538.8 714.6 L539.7 718.9 L531.1 720.6 Z" fill="#b3b5b7" />
<circle cx="532" cy="718" r="1.1" fill="#f4f4f4"/>
<text x="503" y="703" font-size="5" text-anchor="middle" fill="#333" font-family="Liberation Sans" font-weight="bold">T</text>
<text x="520.9" y="714.9" font-size="5" text-anchor="middle" fill="#333" font-family="Liberation Sans" font-weight="bold">S</text>
<text x="542.2" y="727.7" font-size="5" text-anchor="middle" fill="#333" font-family="Liberation Sans" font-weight="bold">R</text>
<path d="M490.2 679.7 L561 702.7 L586.5 687.3" stroke="#d2d2d2" stroke-width="0.8" fill="none"/>
<path d="M561 702.7 L555 760.6" stroke="#f8f8f8" stroke-width="1" fill="none"/>
<path d="M492.8 723.1 L555 760.6" stroke="#b0b0b0" stroke-width="0.9" fill="none"/>
<circle cx="556.7" cy="712.9" r="1.1" fill="#8aa0b8"/>
<circle cx="554.1" cy="744.4" r="1.1" fill="#8aa0b8"/>
<circle cx="494.5" cy="707" r="1.1" fill="#8aa0b8"/>
</svg>
<div class="a txt" style="left:346px;top:788px;line-height:13.7px;">上端锁眼型、下端U型安装孔，便于安装与拆卸，<br>节省时间，提高效率。</div>

</body></html>
